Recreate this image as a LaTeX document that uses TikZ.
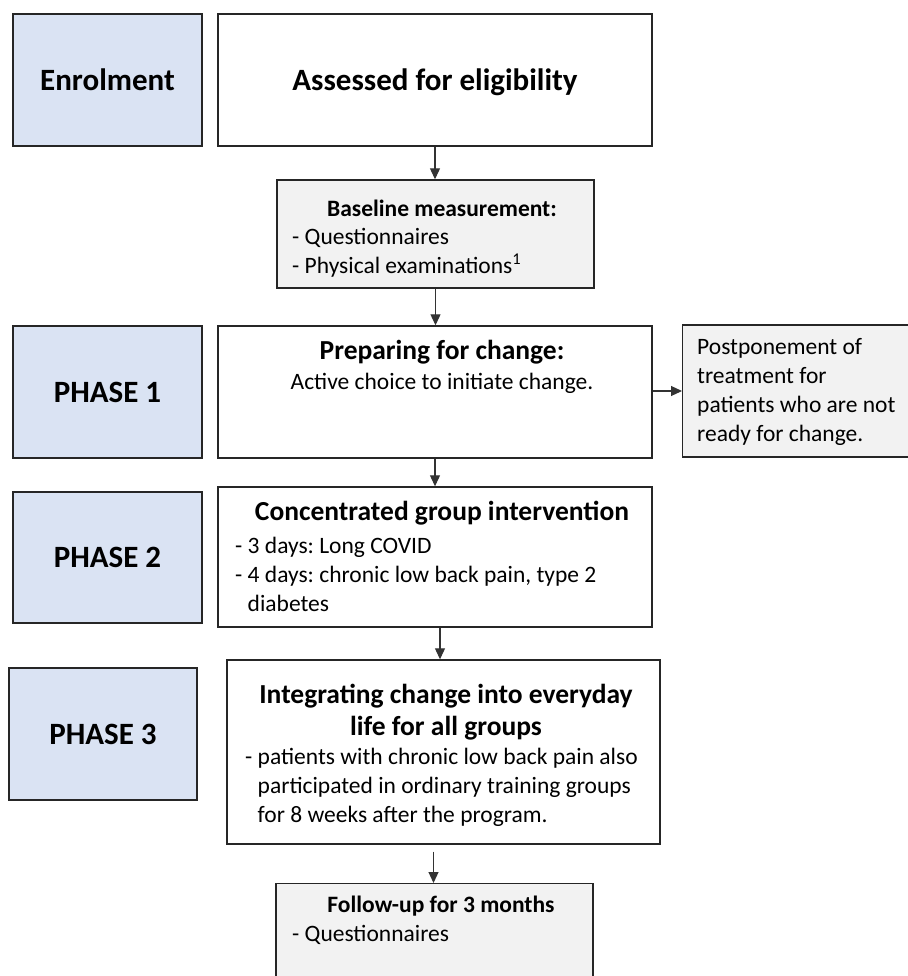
\documentclass[tikz,border=0pt]{standalone}
\usepackage{fontspec}
\setmainfont{Carlito}
\frenchspacing
\usetikzlibrary{positioning,arrows.meta}
\definecolor{phase}{HTML}{DAE3F3}
\definecolor{note}{HTML}{F2F2F2}
\definecolor{edge}{HTML}{262626}

\begin{document}
\begin{tikzpicture}[x=1pt,y=-1pt,
  >={Triangle[length=11pt,width=10pt]},
  cell/.style={draw=edge,line width=1.4pt,fill=#1,inner sep=0pt},
  cell/.default=white,
  phasebox/.style={cell=phase,minimum width=189pt,minimum height=132pt,
                   font=\fontsize{31}{37}\selectfont\bfseries,text depth=0pt},
  head/.style={font=\fontsize{27.5}{32}\selectfont\bfseries,align=center,inner sep=0pt},
  subhead/.style={font=\fontsize{23.5}{29}\selectfont\bfseries,inner sep=0pt},
  body/.style={font=\fontsize{23.5}{29}\selectfont,align=left,inner sep=0pt},
  link/.style={->,line width=1.1pt,draw=black!80},
  ]
  \useasboundingbox (0,0) rectangle (907,976);

  % ---- left column: stage labels ----
  \node[phasebox] (enrol) at (107.5,80) {Enrolment};
  \node[phasebox] (ph1) at (107.5,392) {PHASE 1};
  \node[phasebox,minimum height=131pt] (ph2) at (107.5,557.5) {PHASE 2};
  \node[phasebox,minimum width=188pt] (ph3) at (103,734) {PHASE 3};

  % ---- main column ----
  \node[cell,minimum width=434pt,minimum height=132pt,
        font=\fontsize{31}{37}\selectfont\bfseries,text depth=0pt] (assess) at (435,80) {Assessed for eligibility};

  \node[cell=note,minimum width=317pt,minimum height=108pt] (base) at (435.5,234) {};
  \node[subhead] (basehd) at (442,208) {Baseline measurement:};
  \node[body,anchor=west] (baseli) at (292,252.5) {- Questionnaires\\- Physical examinations\textsuperscript{1}};

  \node[cell,minimum width=434pt,minimum height=132pt] (prep) at (435,392) {};
  \node[head] (prephd) at (442,352) {Preparing for change:};
  \node[body] (preptx) at (442,383) {Active choice to initiate change.};

  % postponed patients (box runs off the right edge)
  \node[cell=note,minimum width=240pt,minimum height=132pt,anchor=west] (post) at (682,391) {};
  \node[body,anchor=west] (posttx) at (697,391.5) {Postponement of\\treatment for\\patients who are not\\ready for change.};

  \node[cell,minimum width=434pt,minimum height=140pt] (conc) at (435,557) {};
  \node[head] (conchd) at (442,513) {Concentrated group intervention};
  \node[body,anchor=west] (concli) at (235,574) {- 3 days: Long COVID\\- 4 days: chronic low back pain, type 2\\\phantom{- }diabetes};

  \node[cell,minimum width=433pt,minimum height=184pt] (integ) at (443.5,752) {};
  \node[head] (integhd) at (446,712) {Integrating change into everyday\\life for all groups};
  \node[body,anchor=west] (integli) at (245,787) {- patients with chronic low back pain also\\\phantom{- }participated in ordinary training groups\\\phantom{- }for 8 weeks after the program.};

  \node[cell=note,minimum width=317pt,minimum height=110pt,anchor=north] (follow) at (434.5,883) {};
  \node[subhead] (followhd) at (441,906) {Follow-up for 3 months};
  \node[body,anchor=west] (followli) at (292,935) {- Questionnaires};

  % ---- arrows ----
  \coordinate (concout) at ([xshift=5pt]conc.south);
  \coordinate (integout) at ([xshift=-10pt]integ.south);
  \draw[link] (assess.south) -- (assess.south |- base.north);
  \draw[link] (base.south) -- (base.south |- prep.north);
  \draw[link] (prep.east |- post.west) -- (post.west);
  \draw[link] (prep.south) -- (prep.south |- conc.north);
  \draw[link] (concout) -- (concout |- integ.north);
  \draw[link,shorten <=7pt] (integout) -- (integout |- follow.north);
\end{tikzpicture}
\end{document}
